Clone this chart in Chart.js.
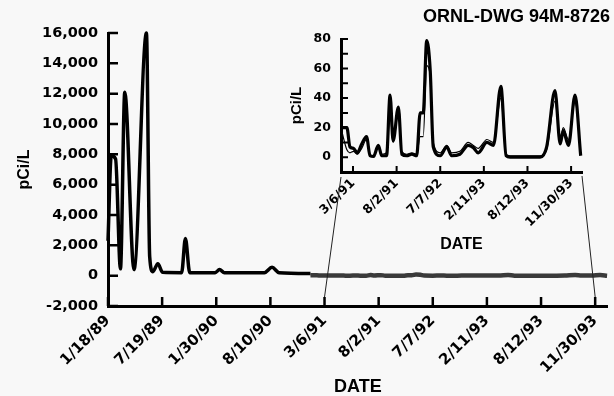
<!DOCTYPE html>
<html>
<head>
<meta charset="utf-8">
<title>pCi/L by date</title>
<script src="https://cdn.jsdelivr.net/npm/chart.js@4.4.1/dist/chart.umd.min.js"></script>
<style>
  html, body { margin: 0; padding: 0; background: #f8f8f8; }
  #wrap { position: relative; width: 614px; height: 396px; }
  #wrap canvas { position: absolute; left: 0; top: 0; }
</style>
</head>
<body>
<div id="wrap">
  <canvas id="grafica_principal" width="614" height="396"></canvas>
  <canvas id="grafica_detalle" width="614" height="396"></canvas>
</div>
<script>
// etiquetas del eje x, una por division (0..9)
const fechas = ['1/18/89', '7/19/89', '1/30/90', '8/10/90', '3/6/91', '8/2/91', '7/7/92', '2/11/93', '8/12/93', '11/30/93'];

// primer tramo (1989-1991), posicion en divisiones del eje y valor en pCi/L
const posicion_inicio = [0, 0.06, 0.14, 0.23, 0.31, 0.48, 0.71, 0.77, 0.83, 0.92, 1.01, 1.36, 1.43, 1.51, 1.98, 2.06, 2.15, 2.89, 3.03, 3.16, 3.74];
const valores_inicio = [2300, 7900, 7700, 450, 12100, 400, 16000, 1250, 260, 790, 220, 200, 2450, 200, 200, 400, 200, 200, 550, 200, 150];

// tramo ampliado (1991-1993): dos curvas, gruesa y fina
const posicion_detalle = [3.74, 3.86, 3.93, 4.01, 4.10, 4.20, 4.31, 4.39, 4.47, 4.58, 4.66, 4.77, 4.85, 4.92, 5.04, 5.12, 5.23, 5.35, 5.46, 5.54, 5.61, 5.69, 5.77, 5.84, 6.00, 6.15, 6.26, 6.45, 6.64, 6.76, 6.87, 7.07, 7.22, 7.39, 7.51, 7.60, 8.29, 8.44, 8.63, 8.75, 8.82, 8.94, 9.09, 9.22];
const valores_gruesa = [20, 20, 7, 6, 3, 9, 14, 1, 0.5, 8, 1, 1, 42, 11, 34, 2, 1, 2, 1, 30, 30, 79, 59, 7, 1, 7, 1, 2, 8, 6.5, 3, 10, 8, 48, 1, 0, 0, 7, 45, 9, 18, 8, 42, 1];
const valores_fina = [18, 5, 3, 4, 2, 6, 12, 2, 1, 7, 2, 3, 30, 10, 30, 4, 2, 3, 2, 14, 14, 62, 55, 10, 3, 8, 3, 4, 10, 8, 6, 12, 10, 40, 2, 1, 1, 5, 38, 12, 20, 12, 38, 2];

function puntos(xs, ys) {
    return xs.map((x, i) => ({ x: x, y: ys[i] }));
}

const fuente_ticks = { family: 'DejaVu Sans', weight: 'bold' };
const fuente_titulos = { family: 'Liberation Sans, Arial, sans-serif', weight: 'bold' };

// marcas de los ejes hacia dentro del area
const marcas_internas = {
    id: 'marcas_internas',
    afterDraw(chart, args, opts) {
        const ctx = chart.ctx;
        const escala_y = chart.scales.y;
        const escala_x = chart.scales.x;
        ctx.save();
        ctx.strokeStyle = '#000';
        ctx.lineWidth = opts.grosor;
        ctx.beginPath();
        escala_y.ticks.forEach(t => {
            const py = escala_y.getPixelForValue(t.value);
            ctx.moveTo(escala_y.right, py);
            ctx.lineTo(escala_y.right + opts.largo_y, py);
        });
        escala_x.ticks.forEach(t => {
            const px = escala_x.getPixelForValue(t.value);
            ctx.moveTo(px, escala_x.top);
            ctx.lineTo(px, escala_x.top - opts.largo_x);
        });
        ctx.stroke();
        ctx.restore();
    }
};

const grafica_principal = new Chart(document.getElementById('grafica_principal').getContext('2d'), {
    type: 'line',
    data: {
        datasets: [{
            data: puntos(posicion_inicio, valores_inicio),
            borderColor: '#000',
            borderWidth: 3.5
        }, {
            data: puntos(posicion_detalle, valores_gruesa),
            borderColor: '#3a3a3a',
            borderWidth: 4.5
        }, {
            data: puntos(posicion_detalle, valores_fina),
            borderColor: '#bdbdbd',
            borderWidth: 1.2
        }]
    },
    options: {
        responsive: false,
        animation: false,
        layout: { padding: { left: 10, right: 4, top: 0, bottom: 0 } },
        elements: {
            point: { radius: 0 },
            line: { cubicInterpolationMode: 'monotone' }
        },
        datasets: { line: { clip: 6 } },
        plugins: {
            legend: { display: false },
            tooltip: { enabled: false },
            title: {
                display: true,
                text: 'ORNL-DWG 94M-8726',
                align: 'end',
                color: '#000',
                font: { ...fuente_titulos, size: 18, lineHeight: 1 },
                padding: { top: 8, bottom: 7 }
            },
            marcas_internas: { grosor: 2.5, largo_x: 9, largo_y: 10 }
        },
        scales: {
            x: {
                type: 'linear',
                min: 0,
                max: 9.23,
                afterBuildTicks: escala => {
                    escala.ticks = fechas.map((f, i) => ({ value: i }));
                },
                afterFit: escala => { escala.height = 90; },
                grid: { display: false, drawTicks: false },
                border: { display: true, color: '#000', width: 3 },
                ticks: {
                    autoSkip: false,
                    minRotation: 45,
                    maxRotation: 45,
                    padding: 6,
                    color: '#000',
                    font: { ...fuente_ticks, size: 15 },
                    callback: v => fechas[v]
                },
                title: {
                    display: true,
                    text: 'DATE',
                    color: '#000',
                    font: { ...fuente_titulos, size: 18, lineHeight: 1 },
                    padding: { top: 0, bottom: 0 }
                }
            },
            y: {
                min: -2000,
                max: 16000,
                afterFit: escala => { escala.width = 98; },
                grid: { display: false, drawTicks: false },
                border: { display: true, color: '#000', width: 3 },
                ticks: {
                    stepSize: 2000,
                    autoSkip: false,
                    padding: 10,
                    color: '#000',
                    font: { ...fuente_ticks, size: 14.5 },
                    callback: v => v.toLocaleString('en-US')
                },
                title: {
                    display: true,
                    text: 'pCi/L',
                    color: '#000',
                    font: { ...fuente_titulos, size: 16, lineHeight: 1.2 },
                    padding: { top: 5, bottom: 0 }
                }
            }
        }
    },
    plugins: [marcas_internas]
});

// lineas que unen el recuadro con el tramo ampliado del eje principal
const lineas_union = {
    id: 'lineas_union',
    afterDraw(chart) {
        const ctx = chart.ctx;
        const ex = chart.scales.x;
        const mx = grafica_principal.scales.x;
        const tope = mx.top - 9;
        ctx.save();
        ctx.strokeStyle = '#222';
        ctx.lineWidth = 1;
        ctx.beginPath();
        ctx.moveTo(ex.left, ex.top + 5);
        ctx.lineTo(mx.getPixelForValue(4), tope);
        ctx.moveTo(ex.right, ex.top + 4);
        ctx.lineTo(mx.getPixelForValue(fechas.length - 1), tope);
        ctx.stroke();
        ctx.restore();
    }
};

new Chart(document.getElementById('grafica_detalle').getContext('2d'), {
    type: 'line',
    data: {
        datasets: [{
            data: puntos(posicion_detalle, valores_fina),
            borderColor: '#000',
            borderWidth: 1.2
        }, {
            data: puntos(posicion_detalle, valores_gruesa),
            borderColor: '#000',
            borderWidth: 3.2
        }]
    },
    options: {
        responsive: false,
        animation: false,
        layout: { padding: { left: 283, right: 32, top: 39, bottom: 141 } },
        elements: {
            point: { radius: 0 },
            line: { cubicInterpolationMode: 'monotone' }
        },
        datasets: { line: { clip: 5 } },
        plugins: {
            legend: { display: false },
            tooltip: { enabled: false },
            marcas_internas: { grosor: 2, largo_x: 6, largo_y: 7 }
        },
        scales: {
            x: {
                type: 'linear',
                min: 3.725,
                max: 9.25,
                afterBuildTicks: escala => {
                    escala.ticks = fechas.map((f, i) => ({ value: i })).filter(t => t.value >= escala.min);
                },
                afterFit: escala => { escala.height = 83; },
                grid: { display: false, drawTicks: false },
                border: { display: true, color: '#000', width: 3 },
                ticks: {
                    autoSkip: false,
                    minRotation: 45,
                    maxRotation: 45,
                    padding: 4,
                    color: '#000',
                    font: { ...fuente_ticks, size: 12.5 },
                    callback: v => fechas[v]
                },
                title: {
                    display: true,
                    text: 'DATE',
                    color: '#000',
                    font: { ...fuente_titulos, size: 16, lineHeight: 1 },
                    padding: { top: 0, bottom: 2 }
                }
            },
            y: {
                min: -10,
                max: 80,
                afterFit: escala => { escala.width = 58; },
                grid: { display: false, drawTicks: false },
                border: { display: true, color: '#000', width: 3 },
                ticks: {
                    stepSize: 10,
                    autoSkip: false,
                    padding: 10,
                    color: '#000',
                    font: { ...fuente_ticks, size: 12.5 },
                    callback: v => (v >= 0 && v % 20 === 0) ? String(v) : ''
                },
                title: {
                    display: true,
                    text: 'pCi/L',
                    color: '#000',
                    font: { ...fuente_titulos, size: 15, lineHeight: 1 },
                    padding: { top: 6, bottom: 0 }
                }
            }
        }
    },
    plugins: [marcas_internas, lineas_union]
});
</script>
</body>
</html>
